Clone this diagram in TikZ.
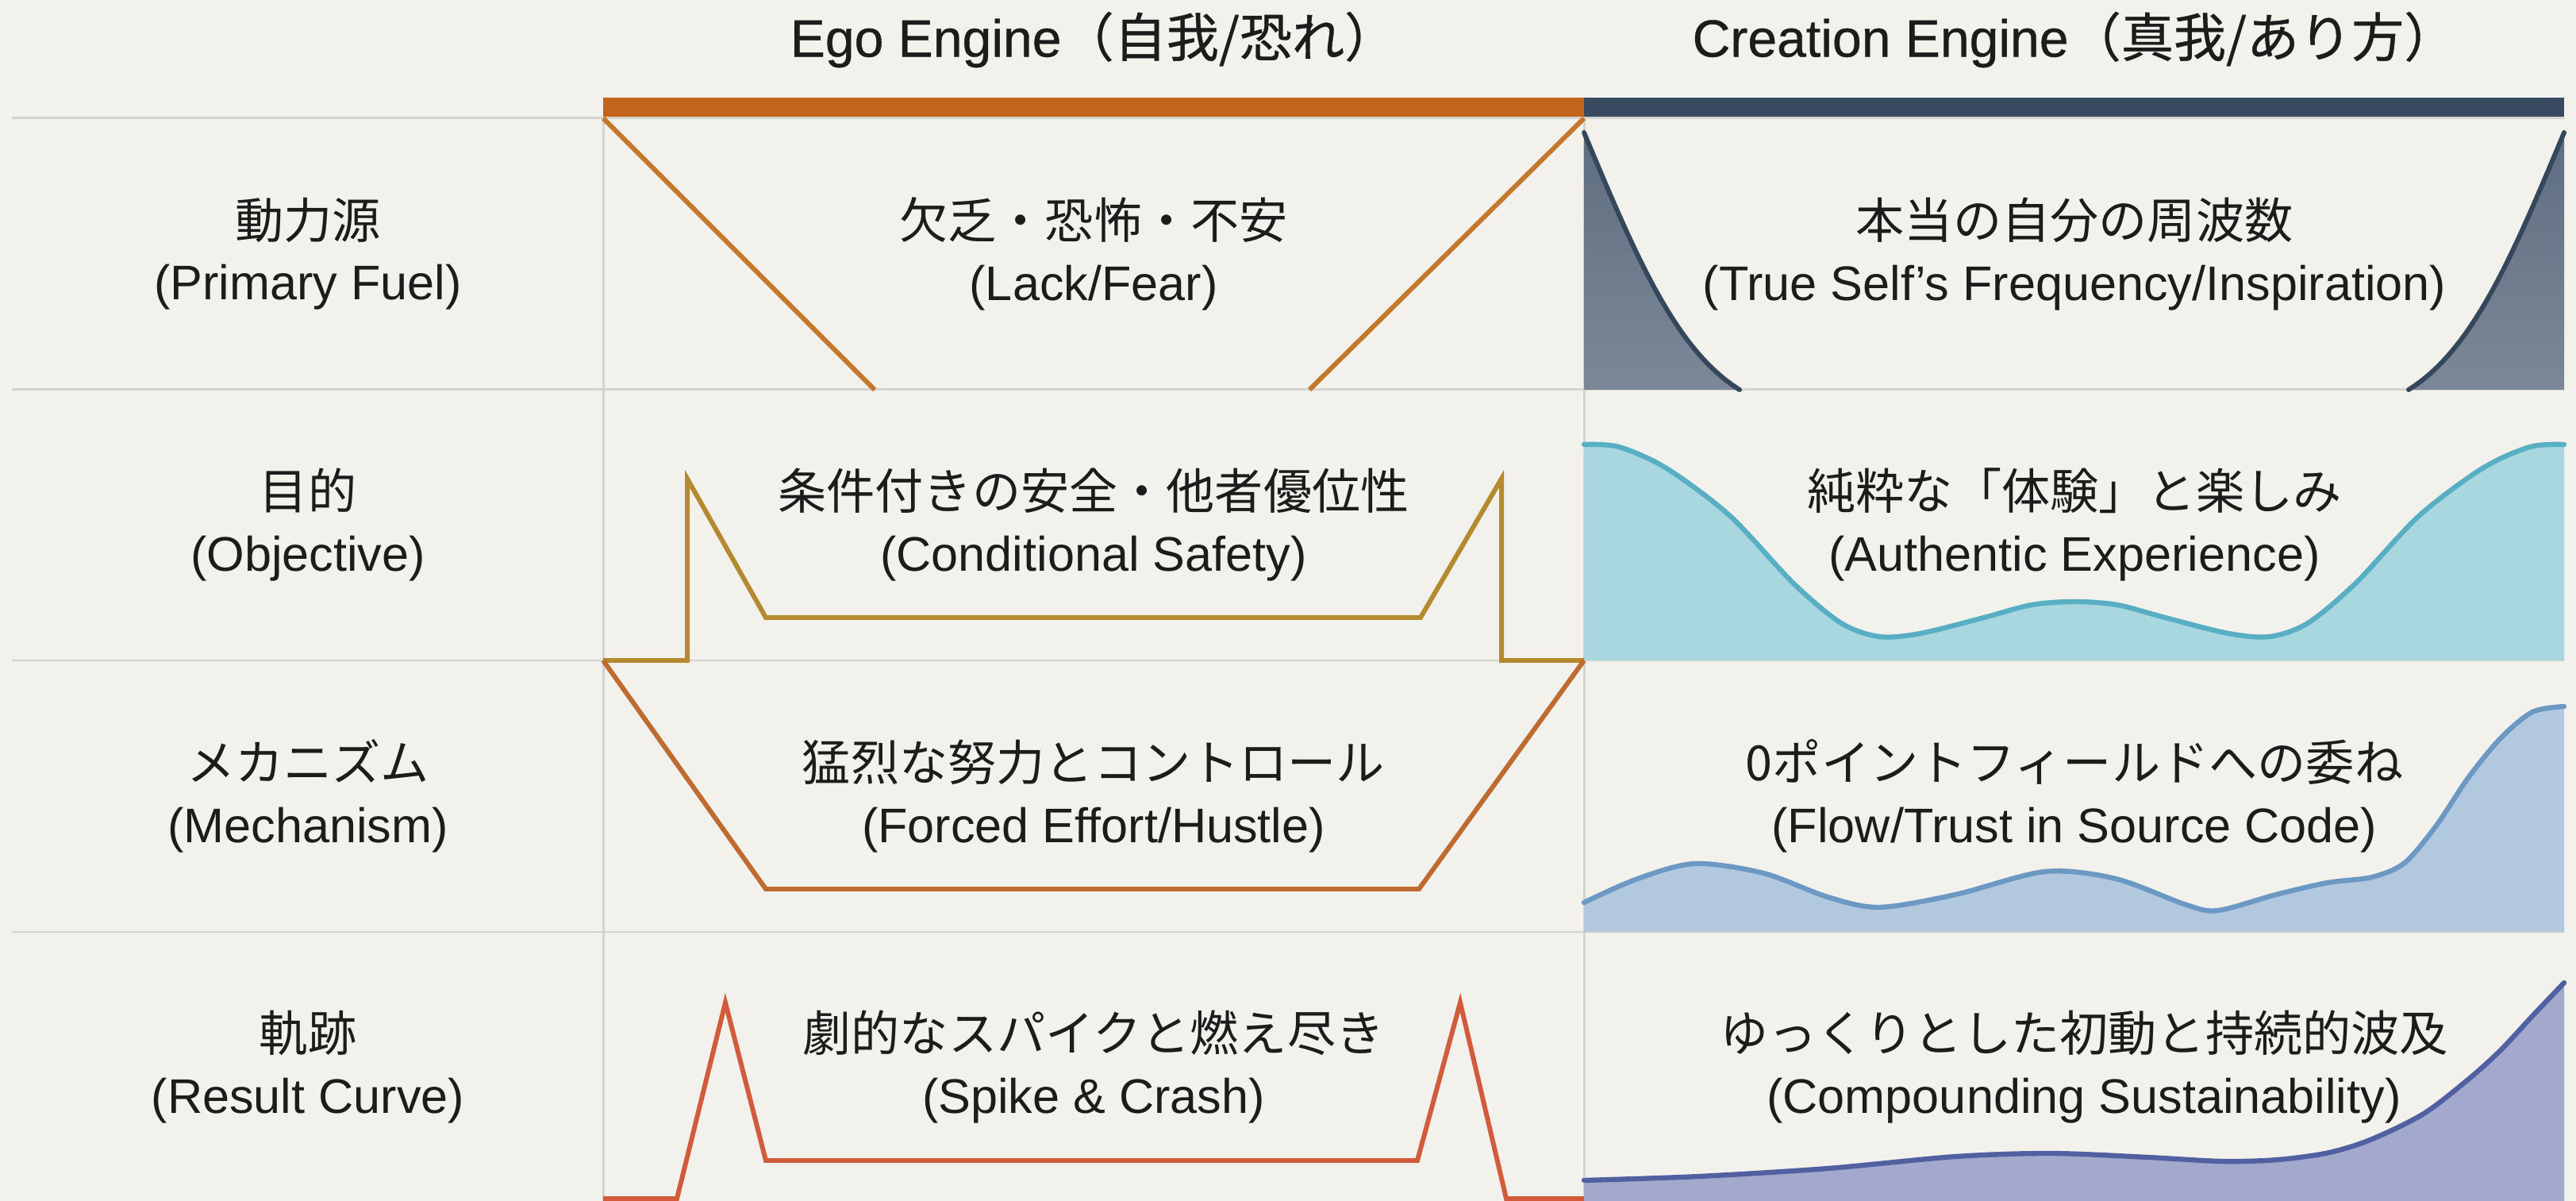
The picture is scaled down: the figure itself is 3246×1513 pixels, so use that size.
\documentclass[tikz,border=0pt]{standalone}
\usepackage{fontspec}
\setmainfont{Liberation Sans}
\newfontfamily\jp{Noto Sans CJK JP}
\newfontfamily\headlat{Liberation Sans}[FakeBold=0.6]
\newfontfamily\headjp{Noto Sans CJK JP}[FakeBold=0.6]
\definecolor{paper}{HTML}{F2F1EC}
\definecolor{rulegray}{HTML}{D5D3CD}
\definecolor{ink}{HTML}{1C1C1C}
\definecolor{egobar}{HTML}{C2651B}
\definecolor{egofuel}{HTML}{C4782C}
\definecolor{egogoal}{HTML}{B58A2E}
\definecolor{egomech}{HTML}{BF6A2E}
\definecolor{egocurve}{HTML}{D15B3B}
\definecolor{crbar}{HTML}{384A5F}
\definecolor{slatetop}{HTML}{5E6D80}
\definecolor{slatebot}{HTML}{7C8898}
\definecolor{slateline}{HTML}{35475C}
\definecolor{tealfill}{HTML}{A8D7E0}
\definecolor{tealline}{HTML}{58AFC4}
\definecolor{bluefill}{HTML}{B2C8DE}
\definecolor{blueline}{HTML}{6C99C4}
\definecolor{purplefill}{HTML}{A3A8CD}
\definecolor{purpleline}{HTML}{5160A0}

\begin{document}
\begin{tikzpicture}[x=0.01cm, y=-0.01cm,
grid/.style={draw=rulegray, line width=0.85pt},
txt/.style={align=center, inner sep=0pt, text=ink, font=\fontsize{17.4}{22}\selectfont},
head/.style={txt, font=\fontsize{18.8}{22}\selectfont\headlat},
egoline/.style={line width=1.7pt, line join=miter}]
\def\wave#1#2#3#4{%
  \fill[#1] (1996,#3) -- plot[smooth] coordinates {#4} -- (3231,#3) -- cycle;
  \draw[#2, line width=1.8pt, line cap=round] plot[smooth] coordinates {#4};}
\useasboundingbox (0,0) rectangle (3246,1513);
\fill[paper] (0,0) rectangle (3246,1513);
% grid
\foreach \y in {149,491,832,1174}
  \draw[grid] (15,\y) -- (3231,\y);
\draw[grid] (760,147) -- (760,1513);
\draw[grid] (1996,147) -- (1996,1513);
% Creation Engine
\shade[top color=slatetop, bottom color=slatebot] (1996,167) .. controls (2060,320) and (2110,440) .. (2192,491) -- (1996,491) -- cycle;
\draw[slateline, line width=1.7pt, line cap=round] (1996,167) .. controls (2060,320) and (2110,440) .. (2192,491);
\shade[top color=slatetop, bottom color=slatebot] (3231,167) .. controls (3167,320) and (3117,440) .. (3035,491) -- (3231,491) -- cycle;
\draw[slateline, line width=1.7pt, line cap=round] (3231,167) .. controls (3167,320) and (3117,440) .. (3035,491);
\wave{tealfill}{tealline}{832}{(1996,560) (2040,563) (2100,590) (2180,650) (2260,735) (2320,785) (2368,802) (2420,798) (2500,778) (2560,762) (2614,758) (2668,762) (2728,778) (2808,798) (2860,802) (2908,785) (2968,735) (3048,650) (3128,590) (3188,563) (3231,560)}
\wave{bluefill}{blueline}{1174}{(1996,1137) (2061,1108) (2135,1088) (2222,1100) (2303,1130) (2368,1143) (2464,1127) (2577,1098) (2666,1107) (2755,1140) (2795,1147) (2868,1127) (2933,1112) (2989,1105) (3030,1087) (3070,1040) (3110,980) (3151,930) (3191,897) (3231,890)}
\wave{purplefill}{purpleline}{1513}{(1996,1487) (2141,1482) (2303,1472) (2464,1457) (2585,1453) (2707,1458) (2800,1463) (2870,1461) (2935,1452) (2989,1435) (3054,1403) (3110,1360) (3151,1323) (3191,1280) (3231,1238)}
% Ego Engine
\draw[egoline, egofuel] (760,149) -- (1102,491);
\draw[egoline, egofuel] (1996,149) -- (1650,491);
\draw[egoline, egogoal] (760,832) -- (866,832) -- (866,603) -- (965,778) -- (1790,778) -- (1892,603) -- (1892,832) -- (1996,832);
\draw[egoline, egomech] (760,832) -- (965,1120) -- (1788,1120) -- (1996,832);
\draw[egoline, egocurve] (760,1510) -- (853,1510) -- (914,1263) -- (965,1462) -- (1786,1462) -- (1840,1263) -- (1898,1510) -- (1996,1510);
% bars
\fill[egobar] (760,123) rectangle (1996,147);
\fill[crbar] (1996,123) rectangle (3231,147);
% headers
\node[head] (egohead) at (1378,50) {Ego Engine{\headjp（自我/恐れ）}};
\node[head] (crhead) at (2614,50) {Creation Engine{\headjp（真我/あり方）}};
% row labels
\node[txt] (fuel) at (388,320) {{\jp 動力源}\\(Primary Fuel)};
\node[txt] (goal) at (388,661) {{\jp 目的}\\(Objective)};
\node[txt] (mech) at (388,1003) {{\jp メカニズム}\\(Mechanism)};
\node[txt] (curve) at (388,1344) {{\jp 軌跡}\\(Result Curve)};
% ego cells
\node[txt] (egofuel) at (1378,320) {{\jp 欠乏・恐怖・不安}\\(Lack/Fear)};
\node[txt] (egogoal) at (1378,661) {{\jp 条件付きの安全・他者優位性}\\(Conditional Safety)};
\node[txt] (egomech) at (1378,1003) {{\jp 猛烈な努力とコントロール}\\(Forced Effort/Hustle)};
\node[txt] (egocurve) at (1378,1344) {{\jp 劇的なスパイクと燃え尽き}\\(Spike \& Crash)};
% creation cells
\node[txt] (crfuel) at (2614,320) {{\jp 本当の自分の周波数}\\(True Self’s Frequency/Inspiration)};
\node[txt] (crgoal) at (2614,661) {{\jp 純粋な「体験」と楽しみ}\\(Authentic Experience)};
\node[txt] (crmech) at (2614,1003) {{\jp 0ポイントフィールドへの委ね}\\(Flow/Trust in Source Code)};
\node[txt] (crcurve) at (2626,1344) {{\jp ゆっくりとした初動と持続的波及}\\(Compounding Sustainability)};
\end{tikzpicture}
\end{document}
